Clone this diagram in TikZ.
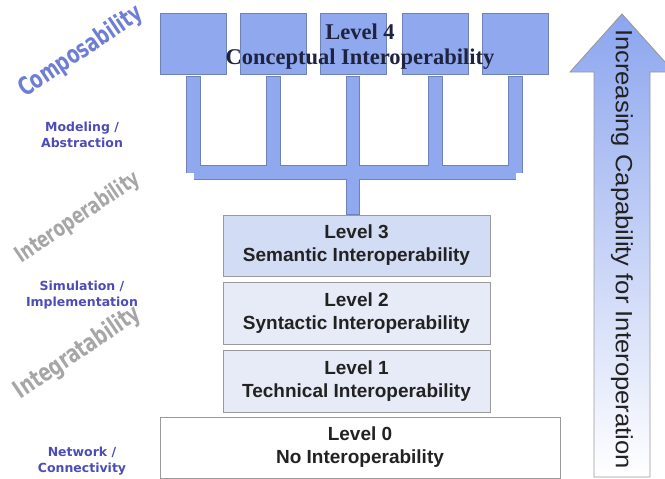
\documentclass[tikz,border=0pt]{standalone}
\usepackage{fontspec}
\setmainfont{Liberation Sans}
\newfontfamily\serifb{Liberation Serif}
\newfontfamily\dvsans{DejaVu Sans}
\definecolor{sqblue}{HTML}{8FA8EE}
\definecolor{sqedge}{HTML}{6F82B8}
\definecolor{lthree}{HTML}{D3DCF5}
\definecolor{lonetwo}{HTML}{E7EBF7}
\definecolor{boxedge}{HTML}{9A9A9A}
\definecolor{labblue}{HTML}{4C4CB8}
\definecolor{wordblue}{HTML}{6E7ED6}
\definecolor{wordgray}{HTML}{A6A6A6}
\definecolor{txtc}{HTML}{222222}
\definecolor{navy}{HTML}{1E2340}
\definecolor{arrblue}{HTML}{8CA5EE}
\begin{document}
\begin{tikzpicture}[x=1pt,y=-1pt,
  sq/.style={draw=sqedge, fill=sqblue, minimum width=66pt, minimum height=61pt, inner sep=0pt, line width=0.8pt},
  lvl/.style={draw=boxedge, line width=0.9pt, minimum width=267pt, minimum height=61pt, align=center, text=txtc, font=\bfseries\fontsize{19}{23}\selectfont, inner sep=0pt},
  word/.style={font=\dvsans\bfseries\fontsize{25}{28}\selectfont, inner sep=0pt, rotate=34, xscale=0.72},
  lab/.style={text=labblue, align=center, font=\dvsans\bfseries\fontsize{12.5}{16}\selectfont, inner sep=0pt},
  barout/.style={draw=sqedge, line width=14.5pt},
  barin/.style={draw=sqblue, line width=12.5pt}]
\useasboundingbox (0,0) rectangle (665,479);
\clip (0,0) rectangle (665,479);
% arrow
\path[draw=boxedge, line width=0.9pt, top color=arrblue, bottom color=white]
  (594,477) -- (594,72) -- (570,72) -- (622,14) -- (674,72) -- (650,72) -- (650,477) -- cycle;
\node[rotate=-90, xscale=1.09, text=txtc, font=\fontsize{23.5}{28}\selectfont, inner sep=0pt] (arrtxt) at (622,249) {Increasing Capability for Interoperation};
% level boxes
\node[lvl, fill=lthree] (l3) at (356.5,245.5) {Level 3\\Semantic Interoperability};
\node[lvl, fill=lonetwo, minimum height=62pt] (l2) at (356.5,313) {Level 2\\Syntactic Interoperability};
\node[lvl, fill=lonetwo, minimum height=62pt] (l1) at (356.5,381) {Level 1\\Technical Interoperability};
\node[lvl, fill=white, minimum width=400pt] (l0) at (360,447.5) {Level 0\\No Interoperability};
% level 4 squares
\node[sq] (s1) at (193.5,43.5) {};
\node[sq] (s2) at (273.5,43.5) {};
\node[sq] (s3) at (353,43.5) {};
\node[sq] (s4) at (435.5,43.5) {};
\node[sq] (s5) at (515.5,43.5) {};
\node[font=\serifb\bfseries\fontsize{22.5}{25}\selectfont, text=navy, align=center, inner sep=0pt] (l4) at (360,47) {Level 4\\Conceptual Interoperability};
% bar junctions
\coordinate (j1) at (193.5,172.5);
\coordinate (j2) at (273.5,172.5);
\coordinate (hub) at (353,172.5);
\coordinate (j4) at (435.5,172.5);
\coordinate (j5) at (515.5,172.5);
% bars: border layer
\draw[barout] ([yshift=-2pt]s1.south) -- (j1);
\draw[barout] ([yshift=-2pt]s2.south) -- (j2);
\draw[barout] ([yshift=-2pt]s3.south) -- (hub);
\draw[barout] ([yshift=-2pt]s4.south) -- (j4);
\draw[barout] ([yshift=-2pt]s5.south) -- (j5);
\draw[barout, line cap=square] (j1) -- (j5);
\draw[barout] (hub) -- (hub |- l3.north);
% bars: inner layer
\draw[barin] ([yshift=-3pt]s1.south) -- (j1);
\draw[barin] ([yshift=-3pt]s2.south) -- (j2);
\draw[barin] ([yshift=-3pt]s3.south) -- (hub);
\draw[barin] ([yshift=-3pt]s4.south) -- (j4);
\draw[barin] ([yshift=-3pt]s5.south) -- (j5);
\draw[barin, line cap=square] (j1) -- (j5);
\draw[barin] (hub) -- ([yshift=1pt]hub |- l3.north);
% rotated words
\node[word, text=wordblue] (wc) at (81,52) {Composability};
\node[word, text=wordgray, font=\dvsans\bfseries\fontsize{22.7}{26}\selectfont] (wi) at (78,218) {Interoperability};
\node[word, text=wordgray] (wg) at (78,353) {Integratability};
% side labels
\node[lab] (m) at (82,135) {Modeling /\\Abstraction};
\node[lab] (s) at (82,295) {Simulation /\\Implementation};
\node[lab] (n) at (82,461) {Network /\\Connectivity};
\end{tikzpicture}
\end{document}
